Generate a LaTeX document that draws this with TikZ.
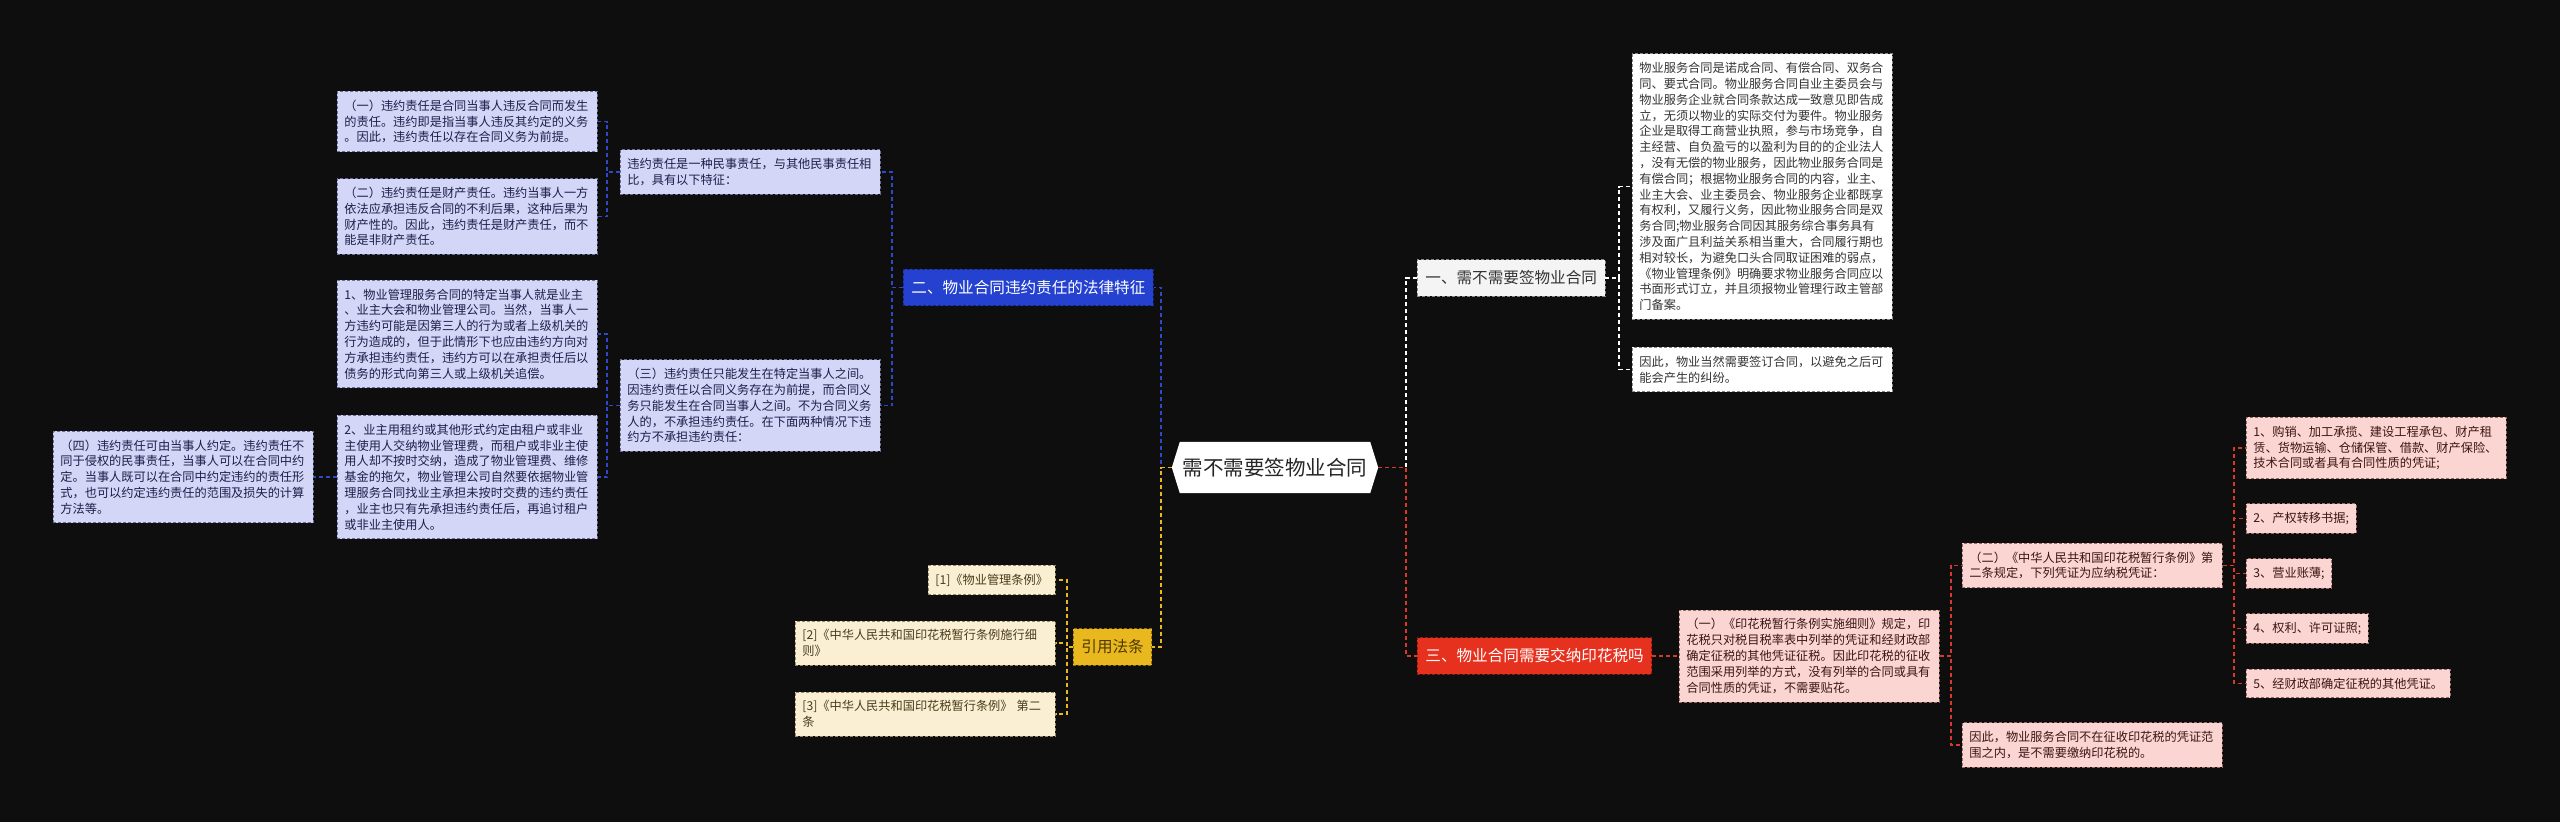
\documentclass[tikz,border=0pt]{standalone}
\usepackage{fontspec}
\setmainfont{Noto Sans CJK SC}
\usetikzlibrary{calc,backgrounds}
\definecolor{bgc}{HTML}{0E0E0E}
\definecolor{bmain}{HTML}{2441D0}
\definecolor{bline}{HTML}{3047C8}
\definecolor{bfill}{HTML}{D3D6F6}
\definecolor{bdraw}{HTML}{6A6E9A}
\definecolor{btext}{HTML}{1C1F4A}
\definecolor{ymain}{HTML}{E9B71E}
\definecolor{yfill}{HTML}{FBEFD3}
\definecolor{ydraw}{HTML}{9A8A60}
\definecolor{ytext}{HTML}{4A3B1A}
\definecolor{ymtext}{HTML}{4D3A00}
\definecolor{wmain}{HTML}{F4F4F4}
\definecolor{wtext}{HTML}{333333}
\definecolor{wdraw}{HTML}{888888}
\definecolor{rmain}{HTML}{E6311F}
\definecolor{rline}{HTML}{D9382A}
\definecolor{rfill}{HTML}{FBD5D1}
\definecolor{rdraw}{HTML}{9A6A66}
\definecolor{rtext}{HTML}{3B1512}
\begin{document}
\begin{tikzpicture}[x=1pt,y=-1pt,
  leafbox/.style={draw, dash pattern=on 3pt off 2pt, line width=0.8pt, inner xsep=7pt, inner ysep=8.5pt, align=left, anchor=west, font=\fontsize{12.2}{15.8}\selectfont},
  widebox/.style={leafbox, text width=246pt},
  mainbox/.style={draw, dash pattern=on 3pt off 2pt, line width=0.8pt, inner xsep=8pt, inner ysep=11pt, anchor=west, font=\fontsize{15.6}{18}\selectfont},
  link/.style={dash pattern=on 4pt off 3pt, line width=1.5pt},
  bleaf/.style={fill=bfill, draw=bdraw, text=btext},
  yleaf/.style={fill=yfill, draw=ydraw, text=ytext},
  wleaf/.style={fill=white, draw=wdraw, text=wtext},
  rleaf/.style={fill=rfill, draw=rdraw, text=rtext},
]
\begin{scope}[on background layer]
  \fill[bgc] (0,0) rectangle (2560,822);
\end{scope}

% root
\node[minimum width=206pt, minimum height=51pt, inner sep=0pt, text=black!85, font=\fontsize{20.5}{24}\selectfont] (root) at (1275,467.5) {需不需要签物业合同};
\begin{scope}[on background layer]
  \fill[white] (root.west) -- ($(root.north west)+(8,0)$) -- ($(root.north east)+(-8,0)$) -- (root.east) -- ($(root.south east)+(-8,0)$) -- ($(root.south west)+(8,0)$) -- cycle;
\end{scope}

% level 1
\node[mainbox, fill=bmain, draw=bmain!60!black, text=white] (sec2) at (903,287.5) {二、物业合同违约责任的法律特征};
\node[mainbox, fill=ymain, draw=ymain!60!black, text=ymtext] (cite) at (1073,647) {引用法条};
\node[mainbox, fill=wmain, draw=wdraw, text=wtext] (sec1) at (1417,278) {一、需不需要签物业合同};
\node[mainbox, fill=rmain, draw=rmain!60!black, text=white] (sec3) at (1417,656) {三、物业合同需要交纳印花税吗};

% blue branch
\node[widebox, bleaf] (m1) at (620,172) {违约责任是一种民事责任，与其他民事责任相\\比，具有以下特征：};
\node[widebox, bleaf] (m2) at (620,405.5) {（三）违约责任只能发生在特定当事人之间。\\因违约责任以合同义务存在为前提，而合同义\\务只能发生在合同当事人之间。不为合同义务\\人的，不承担违约责任。在下面两种情况下违\\约方不承担违约责任：};
\node[widebox, bleaf] (b1) at (337,121.5) {（一）违约责任是合同当事人违反合同而发生\\的责任。违约即是指当事人违反其约定的义务\\。因此，违约责任以存在合同义务为前提。};
\node[widebox, bleaf] (b2) at (337,216.5) {（二）违约责任是财产责任。违约当事人一方\\依法应承担违反合同的不利后果，这种后果为\\财产性的。因此，违约责任是财产责任，而不\\能是非财产责任。};
\node[widebox, bleaf] (b3) at (337,334) {1、物业管理服务合同的特定当事人就是业主\\、业主大会和物业管理公司。当然，当事人一\\方违约可能是因第三人的行为或者上级机关的\\行为造成的，但于此情形下也应由违约方向对\\方承担违约责任，违约方可以在承担责任后以\\债务的形式向第三人或上级机关追偿。};
\node[widebox, bleaf] (b4) at (337,477) {2、业主用租约或其他形式约定由租户或非业\\主使用人交纳物业管理费，而租户或非业主使\\用人却不按时交纳，造成了物业管理费、维修\\基金的拖欠，物业管理公司自然要依据物业管\\理服务合同找业主承担未按时交费的违约责任\\，业主也只有先承担违约责任后，再追讨租户\\或非业主使用人。};
\node[widebox, bleaf] (b5) at (53,477) {（四）违约责任可由当事人约定。违约责任不\\同于侵权的民事责任，当事人可以在合同中约\\定。当事人既可以在合同中约定违约的责任形\\式，也可以约定违约责任的范围及损失的计算\\方法等。};

% yellow branch
\node[leafbox, yleaf] (r1) at (928,580) {[1]《物业管理条例》};
\node[widebox, yleaf] (r2) at (795,643) {[2]《中华人民共和国印花税暂行条例施行细\\则》};
\node[widebox, yleaf] (r3) at (795,714) {[3]《中华人民共和国印花税暂行条例》 第二\\条};

% white branch
\node[widebox, wleaf] (t1) at (1632,186.5) {物业服务合同是诺成合同、有偿合同、双务合\\同、要式合同。物业服务合同自业主委员会与\\物业服务企业就合同条款达成一致意见即告成\\立，无须以物业的实际交付为要件。物业服务\\企业是取得工商营业执照，参与市场竞争，自\\主经营、自负盈亏的以盈利为目的的企业法人\\，没有无偿的物业服务，因此物业服务合同是\\有偿合同；根据物业服务合同的内容，业主、\\业主大会、业主委员会、物业服务企业都既享\\有权利，又履行义务，因此物业服务合同是双\\务合同;物业服务合同因其服务综合事务具有\\涉及面广且利益关系相当重大，合同履行期也\\相对较长，为避免口头合同取证困难的弱点，\\《物业管理条例》明确要求物业服务合同应以\\书面形式订立，并且须报物业管理行政主管部\\门备案。};
\node[widebox, wleaf] (t2) at (1632,369.5) {因此，物业当然需要签订合同，以避免之后可\\能会产生的纠纷。};

% red branch
\node[widebox, rleaf] (e1) at (1679,656) {（一）《印花税暂行条例实施细则》规定，印\\花税只对税目税率表中列举的凭证和经财政部\\确定征税的其他凭证征税。因此印花税的征收\\范围采用列举的方式，没有列举的合同或具有\\合同性质的凭证，不需要贴花。};
\node[widebox, rleaf] (e2) at (1962,565.5) {（二）《中华人民共和国印花税暂行条例》第\\二条规定，下列凭证为应纳税凭证：};
\node[widebox, rleaf] (e3) at (1962,745) {因此，物业服务合同不在征收印花税的凭证范\\围之内，是不需要缴纳印花税的。};
\node[widebox, rleaf] (f1) at (2246,448) {1、购销、加工承揽、建设工程承包、财产租\\赁、货物运输、仓储保管、借款、财产保险、\\技术合同或者具有合同性质的凭证;};
\node[leafbox, rleaf] (f2) at (2246,518.5) {2、产权转移书据;};
\node[leafbox, rleaf] (f3) at (2246,573.5) {3、营业账薄;};
\node[leafbox, rleaf] (f4) at (2246,628.5) {4、权利、许可证照;};
\node[leafbox, rleaf] (f5) at (2246,683.5) {5、经财政部确定征税的其他凭证。};

% trunk coordinates
\coordinate (tA) at (1161,0);
\coordinate (tB) at (1406,0);
\coordinate (tC) at (892,0);
\coordinate (tD) at (607,0);
\coordinate (tE) at (1067,0);
\coordinate (tF) at (1619,0);
\coordinate (tG) at (1951,0);
\coordinate (tH) at (2234,0);

% connectors
\draw[link, bline] (root.west) -- (root.west -| tA) |- (sec2.east);
\draw[link, ymain] (root.west) -- (root.west -| tA) |- (cite.east);
\draw[link, white] (root.east) -- (root.east -| tB) |- (sec1.west);
\draw[link, rline] (root.east) -- (root.east -| tB) |- (sec3.west);

\draw[link, bline] (sec2.west) -- (sec2.west -| tC) |- (m1.east);
\draw[link, bline] (sec2.west) -- (sec2.west -| tC) |- (m2.east);
\draw[link, bline] (m1.west) -- (m1.west -| tD) |- (b1.east);
\draw[link, bline] (m1.west) -- (m1.west -| tD) |- (b2.east);
\draw[link, bline] (m2.west) -- (m2.west -| tD) |- (b3.east);
\draw[link, bline] (m2.west) -- (m2.west -| tD) |- (b4.east);
\draw[link, bline] (b4.west) -- (b5.east);

\draw[link, ymain] (cite.west) -- (cite.west -| tE) |- (r1.east);
\draw[link, ymain] (cite.west) -- (cite.west -| tE) |- (r2.east);
\draw[link, ymain] (cite.west) -- (cite.west -| tE) |- (r3.east);

\draw[link, white] (sec1.east) -- (sec1.east -| tF) |- (t1.west);
\draw[link, white] (sec1.east) -- (sec1.east -| tF) |- (t2.west);

\draw[link, rline] (sec3.east) -- (e1.west);
\draw[link, rline] (e1.east) -- (e1.east -| tG) |- (e2.west);
\draw[link, rline] (e1.east) -- (e1.east -| tG) |- (e3.west);
\draw[link, rline] (e2.east) -- (e2.east -| tH) |- (f1.west);
\draw[link, rline] (e2.east) -- (e2.east -| tH) |- (f2.west);
\draw[link, rline] (e2.east) -- (e2.east -| tH) |- (f3.west);
\draw[link, rline] (e2.east) -- (e2.east -| tH) |- (f4.west);
\draw[link, rline] (e2.east) -- (e2.east -| tH) |- (f5.west);
\end{tikzpicture}
\end{document}
